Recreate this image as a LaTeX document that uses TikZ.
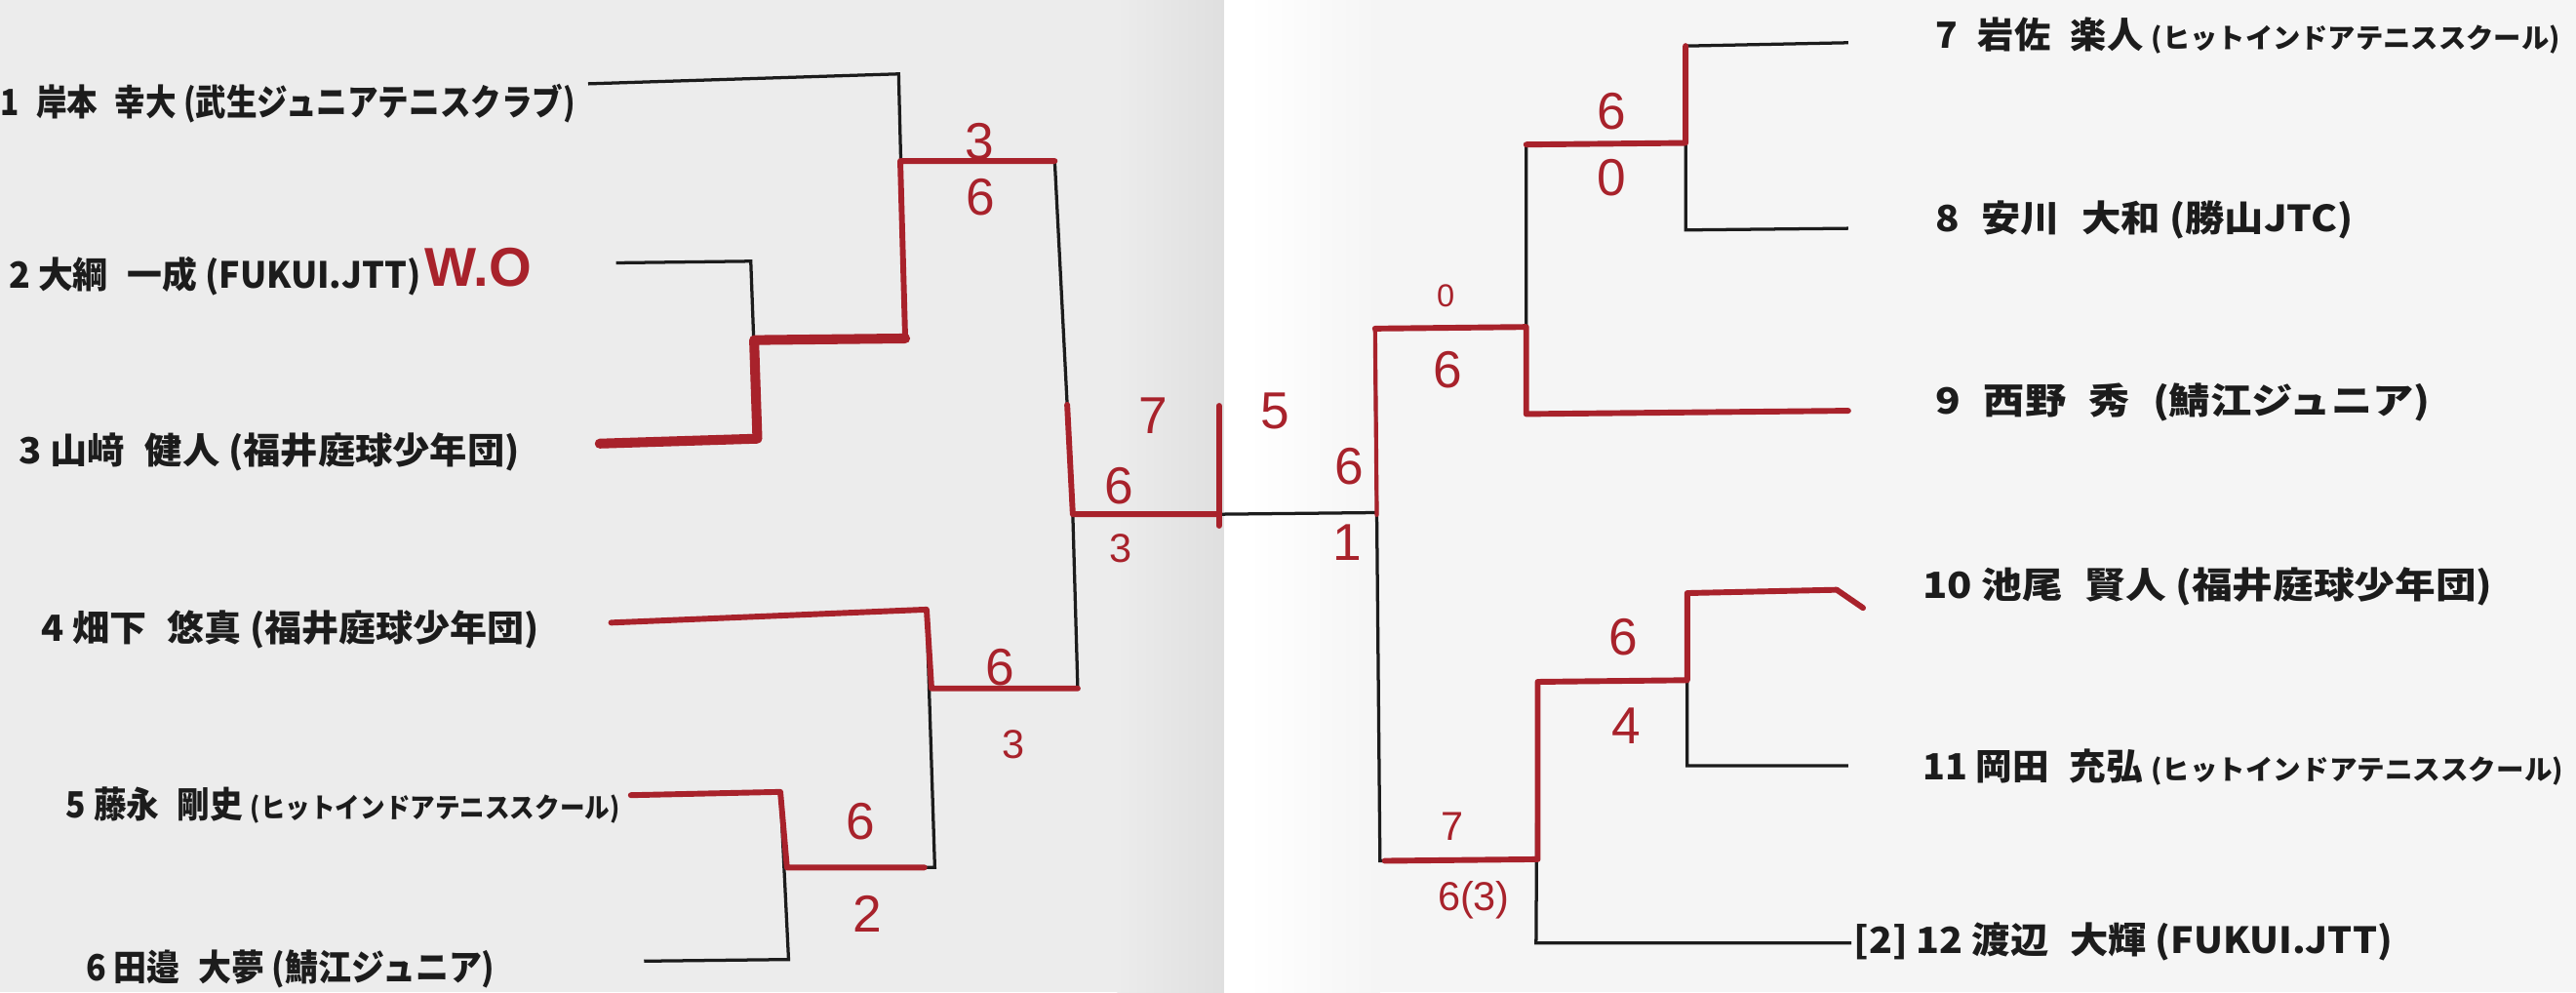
\documentclass[tikz,border=0pt]{standalone}
\usepackage{fontspec}
\usepackage{graphicx}
\usetikzlibrary{calc}
\setmainfont{Liberation Sans}
\newfontfamily\jp{Noto Sans CJK JP}
\newfontfamily\hand{Liberation Sans}
\definecolor{ink}{HTML}{A8222B}
\definecolor{pen}{HTML}{1C1C1C}
\newcommand\fitw[2]{\resizebox{#1}{\height}{#2}}
\newcommand\smk[1]{{\fontsize{9.5}{10}\selectfont #1}}
\newcommand\gp{\hspace{0.55em}}
\begin{document}
\begin{tikzpicture}[x=0.02cm,y=-0.02cm,
  bl/.style={draw=pen, line width=1.1pt},
  rd/.style={draw=ink, line width=2pt, line cap=round, line join=round},
  rdthick/.style={rd, line width=3.4pt},
  ptxt/.style={anchor=west, inner sep=0pt, text=pen, font=\jp\bfseries\fontsize{12.5}{14}\selectfont},
  score/.style={text=ink, inner sep=0pt, font=\hand\fontsize{18}{18}\selectfont},
  scoresm/.style={score, font=\hand\fontsize{14}{14}\selectfont},
  scoretiny/.style={score, font=\hand\fontsize{11}{11}\selectfont}]
\useasboundingbox (0,0) rectangle (1568,604);
% paper
\fill[gray!15] (0,0) rectangle (745,604);
\shade[left color=gray!15, right color=gray!25] (680,0) rectangle (745,604);
\fill[white] (745,0) rectangle (760,604);
\shade[left color=white, right color=gray!8] (760,0) rectangle (840,604);
\fill[gray!8] (840,0) rectangle (1568,604);

% ---------- player texts ----------
\node[ptxt] (t1) at (0,63) {\fitw{7cm}{1\gp 岸本\gp 幸大 (武生ジュニアテニスクラブ)}};
\node[ptxt] (t2) at (5,168) {\fitw{5.02cm}{2 大綱\gp 一成 (FUKUI.JTT)}};
\node[ptxt] (t3) at (11,275) {\fitw{6.1cm}{3 山﨑\gp 健人 (福井庭球少年団)}};
\node[ptxt] (t4) at (25,383) {\fitw{6.06cm}{4 畑下\gp 悠真 (福井庭球少年団)}};
\node[ptxt] (t5) at (40,490) {\fitw{6.74cm}{5 藤永\gp 剛史 \smk{(ヒットインドアテニススクール)}}};
\node[ptxt] (t6) at (52,590) {\fitw{4.98cm}{6 田邉\gp 大夢 (鯖江ジュニア)}};
\node[ptxt] (t7) at (1178,22) {\fitw{7.6cm}{7\gp 岩佐\gp 楽人 \smk{(ヒットインドアテニススクール)}}};
\node[ptxt] (t8) at (1178,134) {\fitw{5.08cm}{8\gp 安川\gp 大和 (勝山JTC)}};
\node[ptxt] (t9) at (1178,245) {\fitw{6.02cm}{9\gp 西野\gp 秀\gp (鯖江ジュニア)}};
\node[ptxt] (t10) at (1170,357) {\fitw{6.94cm}{10 池尾\gp 賢人 (福井庭球少年団)}};
\node[ptxt] (t11) at (1170,467) {\fitw{7.8cm}{11 岡田\gp 充弘 \smk{(ヒットインドアテニススクール)}}};
\node[ptxt] (t12) at (1128,573) {\fitw{6.56cm}{[2] 12 渡辺\gp 大輝 (FUKUI.JTT)}};

% ---------- left bracket coordinates ----------
\coordinate (a1) at (358,51); \coordinate (a2) at (547,45); \coordinate (a3) at (551,206);
\coordinate (b1) at (375,160); \coordinate (b2) at (457,159); \coordinate (b3) at (461,267); \coordinate (b4) at (365,270);
\coordinate (c1) at (459,207);
\coordinate (d1) at (548,98); \coordinate (d2) at (642,98); \coordinate (s1) at (653,313);
\coordinate (e1) at (372,379); \coordinate (e2) at (564,371); \coordinate (e3) at (569,528);
\coordinate (f1) at (384,484); \coordinate (f2) at (475,482); \coordinate (f3) at (480,584); \coordinate (f4) at (392,585);
\coordinate (g1) at (479,528);
\coordinate (h1) at (567,419); \coordinate (h2) at (656,419);
\coordinate (s2) at (742,313); \coordinate (ctr) at (838,312);
\coordinate (tk1) at (742,247); \coordinate (tk2) at (742,320);

% ---------- right bracket coordinates ----------
\coordinate (r7a) at (1125,26); \coordinate (r7b) at (1026,28); \coordinate (r8b) at (1026,140); \coordinate (r8a) at (1125,139);
\coordinate (r78) at (1026,87); \coordinate (q3a) at (929,88); \coordinate (q3b) at (929,252); \coordinate (r9a) at (1125,250);
\coordinate (sf3a) at (929,199); \coordinate (sf3b) at (837,200); \coordinate (sf3c) at (840,524);
\coordinate (r10a) at (1118,359); \coordinate (r10b) at (1027,361); \coordinate (r11b) at (1027,466); \coordinate (r11a) at (1125,466);
\coordinate (r10t) at (1134,370);
\coordinate (q4a) at (1027,414); \coordinate (q4b) at (936,415); \coordinate (r12b) at (935,574); \coordinate (r12a) at (1127,574);
\coordinate (sf4) at (936,523);

% ---------- black lines ----------
\draw[bl] (a1) -- (a2) -- (a3) -- (c1);
\draw[bl] (b1) -- (b2) -- (b3) -- (b4);
\draw[bl] (d1) -- (d2) -- (s1);
\draw[bl] (e1) -- (e2) -- (e3) -- (g1);
\draw[bl] (f1) -- (f2) -- (f3) -- (f4);
\draw[bl] (h1) -- (h2) -- (s1);
\draw[bl] (s1) -- (s2) -- (ctr);
\draw[bl] (r7a) -- (r7b) -- (r8b) -- (r8a);
\draw[bl] (r78) -- (q3a) -- (q3b) -- (r9a);
\draw[bl] (sf3a) -- (sf3b) -- (sf3c) -- (sf4);
\draw[bl] (r10a) -- (r10b) -- (r11b) -- (r11a);
\draw[bl] (q4a) -- (q4b) -- (r12b) -- (r12a);

% ---------- red pen ----------
\draw[rdthick] (b4) -- (b3) -- (c1) -- (a3);
\draw[rd] (a3) -- (d1) -- (d2);
\draw[rd] ($(d2)!0.69!(s1)$) -- (s1) -- (s2);
\draw[rd] (tk1) -- (tk2);
\draw[rd] (e1) -- (e2) -- (h1) -- (h2);
\draw[rd] (f1) -- (f2) -- (g1) -- ($(g1)!0.93!(e3)$);
\draw[rd] (r7b) -- (r78) -- (q3a);
\draw[rd] (r9a) -- (q3b) -- (sf3a) -- (sf3b);
\draw[rd, line width=1.4pt] (sf3b) -- ($(sf3b)!0.35!(sf3c)$);
\draw[rd] (r10t) -- (r10a) -- (r10b) -- (q4a) -- (q4b) -- (sf4) -- ($(sf4)!0.97!(sf3c)$);

% ---------- scores ----------
\node[text=ink, inner sep=0pt, font=\hand\bfseries\fontsize{19}{19}\selectfont] (wo) at (291,163) {W.O};
\node[score] (sq1a) at (596,86) {3};
\node[score] (sq1b) at (597,120) {6};
\node[score] (ssf1a) at (702,253) {7};
\node[score] (ssf1b) at (681,296) {6};
\node[scoresm] (ssf1c) at (682,334) {3};
\node[score] (sq2a) at (609,406) {6};
\node[scoresm] (sq2b) at (617,453) {3};
\node[score] (sm56a) at (524,500) {6};
\node[score] (sm56b) at (528,556) {2};
\node[score] (sf5) at (776,250) {5};
\node[score] (sfr1) at (821,284) {6};
\node[score] (sfr2) at (820,330) {1};
\node[scoretiny] (ssf3a) at (880,180) {0};
\node[score] (ssf3b) at (881,225) {6};
\node[score] (sq3a) at (981,68) {6};
\node[score] (sq3b) at (981,108) {0};
\node[score] (sq4a) at (988,388) {6};
\node[score] (sq4b) at (990,442) {4};
\node[scoresm] (ssf4a) at (884,503) {7};
\node[scoresm] (ssf4b) at (897,548) {6(3)};
\end{tikzpicture}
\end{document}
